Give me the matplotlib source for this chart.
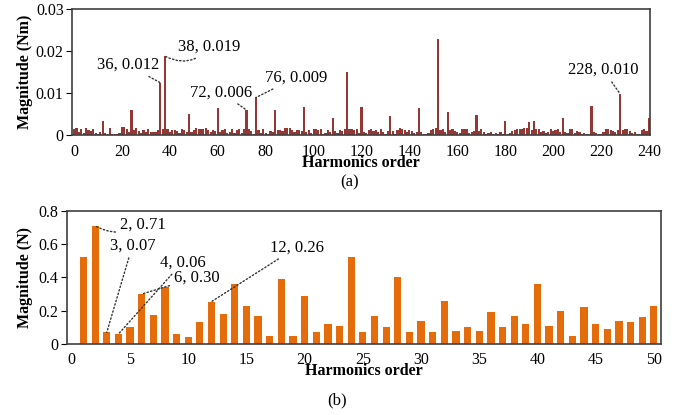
#!/usr/bin/env python

import matplotlib
matplotlib.use('Agg')
import matplotlib.pyplot as plt
import numpy as np

plt.rcParams['font.family'] = ['Liberation Serif', 'DejaVu Serif']

# (a) torque harmonics, orders 0..240
torque_mag = [
    0.0015, 0.0017, 0.0008, 0.0016, 0.0005, 0.0017, 0.0012, 0.0010, 0.0016, 0.0006,
    0.0004, 0.0008, 0.0035, 0.0005, 0.0003, 0.0018, 0.0004, 0.0003, 0.0002, 0.0006,
    0.0020, 0.0019, 0.0015, 0.0008, 0.0060, 0.0012, 0.0018, 0.0010, 0.0006, 0.0012,
    0.0008, 0.0016, 0.0007, 0.0009, 0.0009, 0.0012, 0.0125, 0.0015, 0.0188, 0.0014,
    0.0008, 0.0012, 0.0012, 0.0010, 0.0006, 0.0016, 0.0012, 0.0008, 0.0050, 0.0009,
    0.0012, 0.0018, 0.0014, 0.0016, 0.0015, 0.0018, 0.0012, 0.0008, 0.0012, 0.0010,
    0.0065, 0.0008, 0.0012, 0.0015, 0.0006, 0.0009, 0.0015, 0.0005, 0.0012, 0.0014,
    0.0006, 0.0016, 0.0060, 0.0016, 0.0010, 0.0004, 0.0090, 0.0012, 0.0005, 0.0015,
    0.0006, 0.0004, 0.0010, 0.0008, 0.0060, 0.0012, 0.0013, 0.0010, 0.0018, 0.0018,
    0.0017, 0.0012, 0.0008, 0.0012, 0.0013, 0.0010, 0.0067, 0.0008, 0.0012, 0.0005,
    0.0014, 0.0016, 0.0012, 0.0015, 0.0004, 0.0006, 0.0012, 0.0008, 0.0040, 0.0010,
    0.0005, 0.0012, 0.0010, 0.0016, 0.0150, 0.0014, 0.0016, 0.0012, 0.0016, 0.0006,
    0.0067, 0.0008, 0.0006, 0.0012, 0.0015, 0.0010, 0.0012, 0.0008, 0.0016, 0.0008,
    0.0004, 0.0010, 0.0045, 0.0010, 0.0004, 0.0012, 0.0018, 0.0014, 0.0012, 0.0008,
    0.0012, 0.0010, 0.0006, 0.0008, 0.0066, 0.0008, 0.0004, 0.0003, 0.0006, 0.0012,
    0.0016, 0.0018, 0.0228, 0.0012, 0.0014, 0.0008, 0.0055, 0.0012, 0.0014, 0.0010,
    0.0008, 0.0006, 0.0016, 0.0015, 0.0014, 0.0006, 0.0008, 0.0010, 0.0048, 0.0010,
    0.0014, 0.0008, 0.0004, 0.0006, 0.0008, 0.0004, 0.0006, 0.0002, 0.0008, 0.0003,
    0.0035, 0.0002, 0.0006, 0.0010, 0.0012, 0.0014, 0.0016, 0.0015, 0.0018, 0.0018,
    0.0032, 0.0012, 0.0035, 0.0014, 0.0016, 0.0008, 0.0010, 0.0006, 0.0008, 0.0014,
    0.0010, 0.0012, 0.0014, 0.0008, 0.0040, 0.0008, 0.0006, 0.0015, 0.0014, 0.0006,
    0.0010, 0.0008, 0.0004, 0.0006, 0.0003, 0.0002, 0.0070, 0.0008, 0.0006, 0.0004,
    0.0003, 0.0008, 0.0014, 0.0015, 0.0012, 0.0010, 0.0008, 0.0012, 0.0098, 0.0012,
    0.0016, 0.0014, 0.0010, 0.0006, 0.0008, 0.0004, 0.0003, 0.0012, 0.0014, 0.0010,
    0.0040,
]
torque_order = list(range(len(torque_mag)))

# (b) force harmonics, orders 1..50
force_mag = [
    0.52, 0.71, 0.07, 0.06, 0.10, 0.30, 0.175, 0.345, 0.06, 0.045,
    0.13, 0.255, 0.18, 0.36, 0.23, 0.17, 0.05, 0.39, 0.05, 0.29,
    0.07, 0.12, 0.11, 0.52, 0.07, 0.17, 0.10, 0.40, 0.07, 0.14,
    0.07, 0.26, 0.08, 0.10, 0.08, 0.195, 0.10, 0.17, 0.12, 0.36,
    0.11, 0.20, 0.05, 0.22, 0.12, 0.09, 0.14, 0.13, 0.16, 0.23,
]
force_order = list(range(1, len(force_mag) + 1))

torque_labels = [(36, '36, 0.012'), (38, '38, 0.019'), (72, '72, 0.006'),
                 (76, '76, 0.009'), (228, '228, 0.010')]
force_labels = [(2, '2, 0.71'), (3, '3, 0.07'), (4, '4, 0.06'),
                (6, '6, 0.30'), (12, '12, 0.26')]

red = '#953735'
orange = '#E46C0A'

fig = plt.figure(figsize=(6.82, 4.15), dpi=100)
ax1 = fig.add_axes([0.1056, 0.674, 0.847, 0.304])
ax2 = fig.add_axes([0.098, 0.171, 0.871, 0.321])

# --- (a)
ax1.bar(torque_order, torque_mag, width=0.9, color=red, linewidth=0)
ax1.set_xlim(-0.85, 240.3)
ax1.set_ylim(0, 0.03)
ax1.set_xticks(range(0, 241, 20))
ax1.set_yticks([0, 0.01, 0.02, 0.03])
ax1.set_yticklabels(['0', '0.01', '0.02', '0.03'])
ax1.set_ylabel('Magnitude (Nm)', fontsize=11.5, fontweight='bold', labelpad=2)
ax1.set_xlabel('Harmonics order', fontsize=11.5, fontweight='bold', labelpad=-3)

# text spots (order, value)
txt1 = {36: (22.5, 0.0167, 'center'), 38: (43.5, 0.0210, 'left'),
        72: (61.5, 0.0102, 'center'), 76: (92.5, 0.0137, 'center'),
        228: (221.0, 0.0155, 'center')}
for order, label in torque_labels:
    tx, ty, ha = txt1[order]
    rad = -0.4 if order == 38 else 0.0
    ax1.annotate(label, xy=(order, torque_mag[order]), xytext=(tx, ty),
                 ha=ha, va='center', fontsize=12,
                 arrowprops=dict(arrowstyle='-', linestyle=':', lw=1.0,
                                 color='#333333', shrinkA=1, shrinkB=0,
                                 connectionstyle='arc3,rad=%s' % rad))

# --- (b)
ax2.bar(force_order, force_mag, width=0.62, color=orange)
ax2.set_xlim(-0.43, 50.6)
ax2.set_ylim(0, 0.8)
ax2.set_xticks(range(0, 51, 5))
ax2.set_yticks([0, 0.2, 0.4, 0.6, 0.8])
ax2.set_yticklabels(['0', '0.2', '0.4', '0.6', '0.8'])
ax2.set_ylabel('Magnitude (N)', fontsize=11.5, fontweight='bold', labelpad=4)
ax2.set_xlabel('Harmonics order', fontsize=11.5, fontweight='bold', labelpad=-4)

txt2 = {2: (4.1, 0.72, 'left'), 3: (5.2, 0.59, 'center'),
        4: (9.5, 0.49, 'center'), 6: (10.7, 0.40, 'center'),
        12: (19.3, 0.58, 'center')}
for order, label in force_labels:
    tx, ty, ha = txt2[order]
    rad = -0.3 if order == 2 else 0.0
    ax2.annotate(label, xy=(order, force_mag[order - 1]), xytext=(tx, ty),
                 ha=ha, va='center', fontsize=12,
                 arrowprops=dict(arrowstyle='-', linestyle=':', lw=1.0,
                                 color='#333333', shrinkA=1, shrinkB=0,
                                 connectionstyle='arc3,rad=%s' % rad))

for ax in [ax1, ax2]:
    ax.tick_params(axis='x', length=0, labelsize=11.5, pad=6)
    ax.tick_params(axis='y', direction='out', length=4, labelsize=11.5, pad=2)
    for s in ax.spines.values():
        s.set_color('#404040')
        s.set_linewidth(1.2)

fig.text(0.513, 0.56, '(a)', ha='center', va='center', fontsize=12)
fig.text(0.494, 0.036, '(b)', ha='center', va='center', fontsize=12)

fig.savefig('out.png', dpi=100)
